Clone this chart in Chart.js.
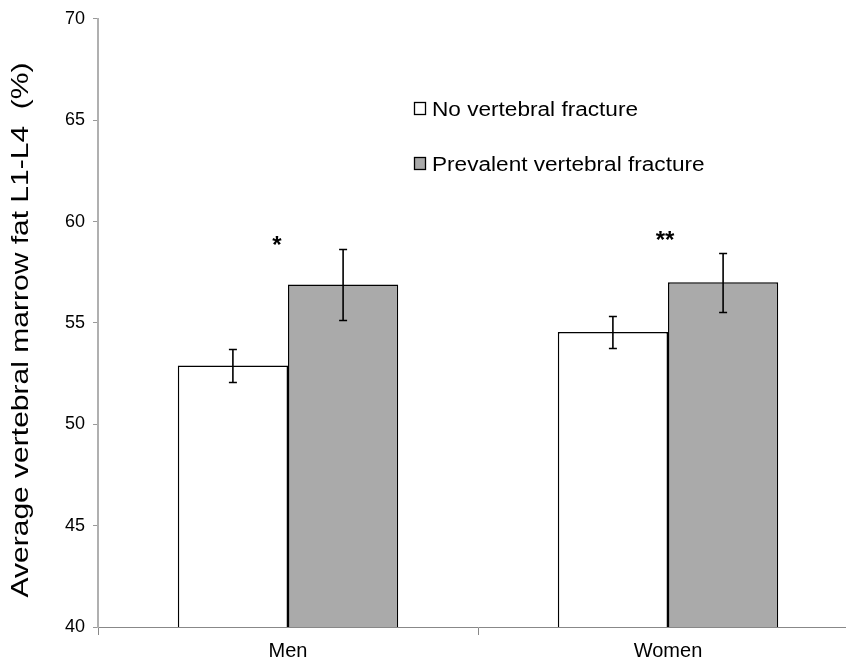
<!DOCTYPE html>
<html><head><meta charset="utf-8">
<script src="https://cdn.jsdelivr.net/npm/chart.js@4/dist/chart.umd.min.js"></script>
<style>html,body{margin:0;padding:0;background:#fff;overflow:hidden}#w{width:858px;height:665px}</style>
</head><body><div id="w"><canvas id="c"></canvas></div>
<script>
const categories = ["Men", "Women"];
const seriesNames = ["No vertebral fracture", "Prevalent vertebral fracture"];
const noFracture = [52.9, 54.55];
const noFractureErr = [0.8, 0.77];
const prevalentFracture = [56.9, 57.0];
const prevalentFractureErr = [1.75, 1.45];
const significance = ["*", "**"];
const significanceLevel = [59.1, 59.35];
const yTicks = [40, 45, 50, 55, 60, 65, 70];
const yTitle = "Average vertebral marrow fat L1-L4  (%)";

const FONT = "'Liberation Sans', Arial, sans-serif";
const errs = [noFractureErr, prevalentFractureErr];
const starOffsets = [-11, -3];

function stretchedText(ctx, text, x, y, sx) {
  ctx.save();
  ctx.translate(x, y);
  ctx.scale(sx, 1);
  ctx.fillText(text, 0, 0);
  ctx.restore();
}

const extras = {
  id: 'extras',
  afterDatasetsDraw(chart) {
    const ctx = chart.ctx, y = chart.scales.y;
    ctx.save();
    ctx.strokeStyle = '#000'; ctx.lineWidth = 1.6;
    chart.data.datasets.forEach((ds, di) => {
      const meta = chart.getDatasetMeta(di);
      meta.data.forEach((bar, i) => {
        const v = ds.data[i], e = errs[di][i];
        const yt = Math.round(y.getPixelForValue(v + e)) + 0.5, yb = Math.round(y.getPixelForValue(v - e)) + 0.5;
        const x = bar.x, cw = 4;
        ctx.beginPath();
        ctx.moveTo(x, yt); ctx.lineTo(x, yb);
        ctx.moveTo(x - cw, yt); ctx.lineTo(x + cw, yt);
        ctx.moveTo(x - cw, yb); ctx.lineTo(x + cw, yb);
        ctx.stroke();
      });
    });
    // significance marks
    ctx.fillStyle = '#000';
    ctx.font = "bold 24px " + FONT;
    ctx.textAlign = 'center'; ctx.textBaseline = 'alphabetic';
    const m0 = chart.getDatasetMeta(0), m1 = chart.getDatasetMeta(1);
    significance.forEach((s, i) => {
      const x = (m0.data[i].x + m1.data[i].x) / 2 + starOffsets[i];
      ctx.fillText(s, x, y.getPixelForValue(significanceLevel[i]) + 13);
    });
    // legend
    const lx = 414;
    const lys = [116, 171];
    ctx.font = "20px " + FONT;
    ctx.textAlign = 'left';
    chart.data.datasets.forEach((ds, di) => {
      const ly = lys[di];
      ctx.fillStyle = ds.backgroundColor;
      ctx.fillRect(lx + 0.5, ly - 13.5, 11, 12);
      ctx.lineWidth = 1.3; ctx.strokeStyle = '#000';
      ctx.strokeRect(lx + 0.5, ly - 13.5, 11, 12);
      ctx.fillStyle = '#000';
      stretchedText(ctx, ds.label, lx + 18, ly, 1.13);
    });
    // y axis title
    ctx.save();
    ctx.font = "24px " + FONT;
    ctx.textAlign = 'center'; ctx.textBaseline = 'middle';
    const w = ctx.measureText(yTitle).width;
    ctx.translate(21, 330);
    ctx.rotate(-Math.PI / 2);
    ctx.scale(535 / w, 1);
    ctx.fillStyle = '#000';
    ctx.fillText(yTitle, 0, 0);
    ctx.restore();
    ctx.restore();
  }
};

new Chart(document.getElementById('c'), {
  type: 'bar',
  data: {
    labels: categories,
    datasets: [
      { label: seriesNames[0], data: noFracture, backgroundColor: '#ffffff', borderColor: '#000', borderWidth: 1.5, borderSkipped: 'bottom' },
      { label: seriesNames[1], data: prevalentFracture, backgroundColor: '#aaaaaa', borderColor: '#000', borderWidth: 1.5, borderSkipped: 'bottom' }
    ]
  },
  options: {
    responsive: true, maintainAspectRatio: false, animation: false,
    layout: { padding: { top: 18, right: 0, left: 0, bottom: 0 } },
    datasets: { bar: { categoryPercentage: 0.58, barPercentage: 1.0 } },
    plugins: { legend: { display: false }, tooltip: { enabled: false } },
    scales: {
      x: {
        afterFit(s) { s.height = 38; },
        grid: { drawOnChartArea: false, tickLength: 8, color: '#888' },
        border: { color: '#888', width: 1 },
        ticks: { color: '#000', font: { family: FONT, size: 20 }, padding: 4 }
      },
      y: {
        min: 40, max: 70,
        afterBuildTicks(s) { s.ticks = yTicks.map(v => ({ value: v })); },
        afterFit(s) { s.width = 98; },
        grid: { drawOnChartArea: false, tickLength: 5, color: '#999' },
        border: { color: '#b0b0b0', width: 2 },
        ticks: { color: '#000', font: { family: FONT, size: 18 }, padding: 8 }
      }
    }
  },
  plugins: [extras]
});
</script></body></html>
